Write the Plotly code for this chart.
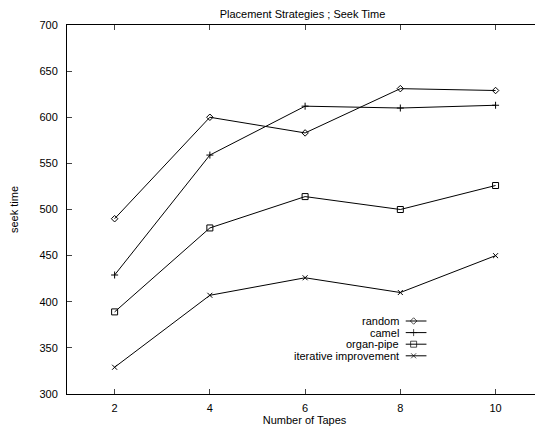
import plotly.graph_objects as go

tapes = [2, 4, 6, 8, 10]
random_vals = [490, 600, 583, 631, 629]
camel_vals = [429, 559, 612, 610, 613]
organ_pipe_vals = [389, 480, 514, 500, 526]
iterative_vals = [329, 407, 426, 410, 450]

series_names = ["random", "camel", "organ-pipe", "iterative improvement"]
series_values = [random_vals, camel_vals, organ_pipe_vals, iterative_vals]
symbols = ["diamond-open", "cross-thin-open", "square-open", "x-thin-open"]
sizes = [5, 5, 6, 5]

x_ticks = [2, 4, 6, 8, 10]
y_ticks = [300, 350, 400, 450, 500, 550, 600, 650, 700]

OFF = 8  # page body margin
W, H = 535, 423
L, R, T, B = 54, 0, 17, 37
FONT = "Liberation Sans, Arial, sans-serif"

fig = go.Figure()
for name, vals, sym, sz in zip(series_names, series_values, symbols, sizes):
    fig.add_trace(go.Scatter(
        x=tapes, y=vals, mode="lines+markers", name=name,
        line=dict(color="black", width=1),
        marker=dict(symbol=sym, size=sz, color="black", line=dict(color="black", width=1)),
        showlegend=False))

# custom gnuplot-style legend (text right-aligned, key sample on the right)
pw = W - L - R
ph = H - T - B
text_right_px = 400 - OFF
key_x0_px, key_x1_px = 405 - OFF, 426 - OFF
key_mark_px = 413 - OFF
row0_px, row_step = 321 - OFF, 11.6
for i, (name, sym, sz) in enumerate(zip(series_names, symbols, sizes)):
    py = row0_px + i * row_step
    yp = (H - B - py) / ph
    x0 = (key_x0_px - L) / pw
    x1 = (key_x1_px - L) / pw
    xm = (key_mark_px - L) / pw
    fig.add_trace(go.Scatter(
        x=[x0, xm, x1], y=[yp, yp, yp], xaxis="x2", yaxis="y2",
        mode="lines+markers", line=dict(color="black", width=1),
        marker=dict(symbol=sym, size=[0, sz, 0], color="black", line=dict(color="black", width=1)),
        showlegend=False, hoverinfo="skip"))
    fig.add_annotation(x=(text_right_px - L) / pw, y=yp, xref="paper", yref="paper",
                       text=name, showarrow=False, xanchor="right", yanchor="middle",
                       font=dict(size=11, color="black", family=FONT))

fig.update_layout(
    width=W, height=H,
    margin=dict(l=L, r=R, t=T, b=B),
    paper_bgcolor="white", plot_bgcolor="white",
    font=dict(family=FONT, size=11, color="black"),
    title=dict(text="Placement Strategies ; Seek Time", x=(L + pw / 2) / W, xanchor="center",
               y=1 - 6 / H, yanchor="middle", font=dict(size=11, color="black")),
    xaxis=dict(range=[1, 10.975], tickvals=x_ticks, ticks="inside", ticklen=5,
               showline=True, linecolor="black", linewidth=1, mirror="ticks",
               showgrid=False, zeroline=False, ticklabelstandoff=4,
               title=dict(text="Number of Tapes", standoff=2, font=dict(size=11, color="black"))),
    yaxis=dict(range=[300, 700], tickvals=y_ticks, ticks="inside", ticklen=5,
               showline=True, linecolor="black", linewidth=1, mirror="ticks",
               showgrid=False, zeroline=False, ticklabelstandoff=6,
               title=dict(text="seek time", standoff=24, font=dict(size=11, color="black"))),
    xaxis2=dict(range=[0, 1], overlaying="x", visible=False),
    yaxis2=dict(range=[0, 1], overlaying="y", visible=False),
)

fig.write_html("out.html")
